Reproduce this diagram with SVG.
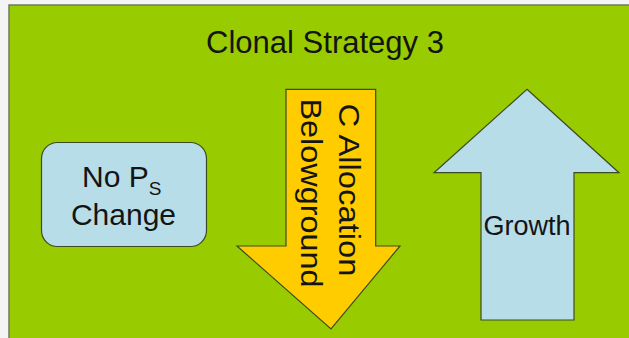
<svg xmlns="http://www.w3.org/2000/svg" width="629" height="338" viewBox="0 0 629 338">
<style>
.lbl{font-family:"Liberation Sans",Arial,sans-serif;fill:#141414}
.shape{stroke:#3d4a26;stroke-width:1.2;stroke-linejoin:miter}
</style>
<rect x="0" y="0" width="629" height="338" fill="#f4f4f4"/>
<rect id="panel" x="9" y="5" width="625" height="340" fill="#99cc00" stroke="#6f7a60" stroke-width="1.5"/>
<g id="title">
<text class="lbl" x="325" y="52.7" font-size="31" text-anchor="middle">Clonal Strategy 3</text>
</g>
<g id="no-ps-change">
<rect class="shape" x="41.5" y="142.5" width="165" height="104" rx="16" ry="16" fill="#b7dde8"/>
<text class="lbl" x="82" y="186.7" font-size="30">No P<tspan font-size="19" dy="8">S</tspan></text>
<text class="lbl" x="123.5" y="225" font-size="30" text-anchor="middle">Change</text>
</g>
<g id="c-allocation">
<polygon class="shape" points="286,89.3 375.7,89.3 375.7,246 400,246 331,329 237,246 286,246" fill="#ffcc00"/>
<text class="lbl" transform="translate(338.5,190) rotate(90)" x="0" y="0" font-size="30" text-anchor="middle" textLength="173" lengthAdjust="spacingAndGlyphs">C Allocation</text>
<text class="lbl" transform="translate(300.5,193) rotate(90)" x="0" y="0" font-size="30" text-anchor="middle" textLength="189" lengthAdjust="spacingAndGlyphs">Belowground</text>
</g>
<g id="growth">
<polygon class="shape" points="527,89.3 619,172.7 574,172.7 574,320 481,320 481,172.7 434,172.7" fill="#b7dde8"/>
<text class="lbl" x="527" y="235" font-size="27" text-anchor="middle">Growth</text>
</g>
<g id="connectors"/>
</svg>
